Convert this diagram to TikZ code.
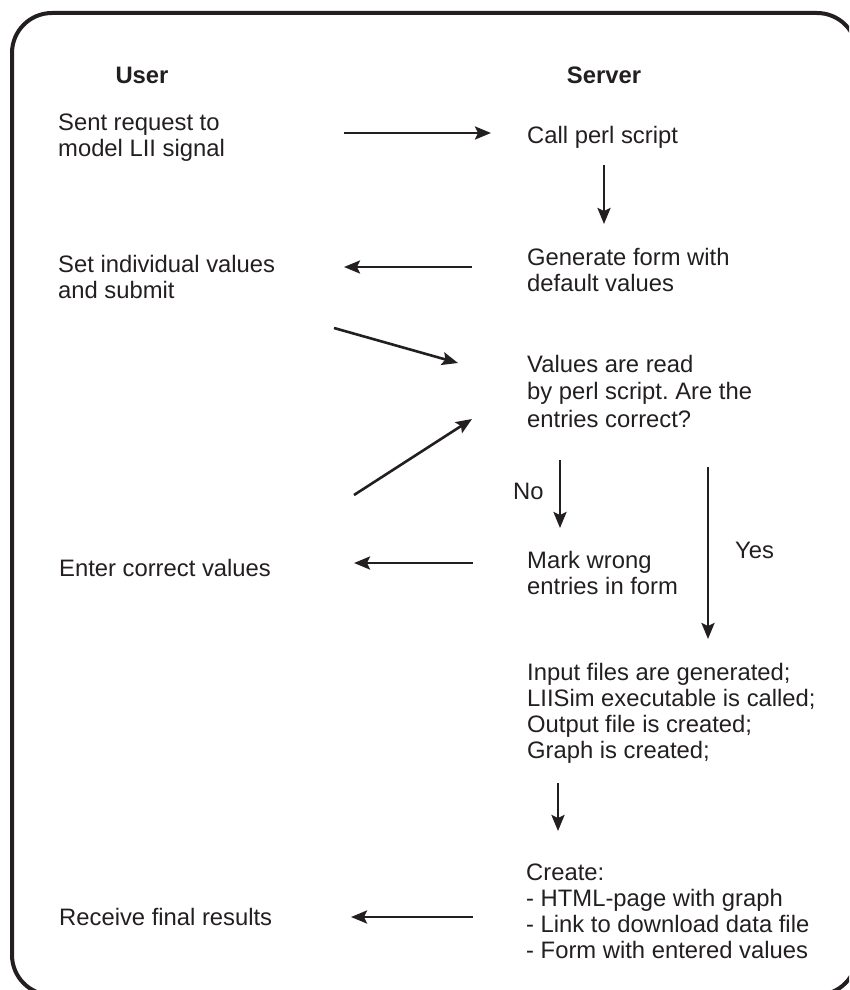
\documentclass[tikz,border=0pt]{standalone}
\usepackage{fontspec}
\setmainfont{Liberation Sans}
\usetikzlibrary{arrows.meta}
\definecolor{ink}{RGB}{35,31,32}
\newcommand\ml[1]{\begin{tabular}[t]{@{}l@{}}#1\end{tabular}}
\frenchspacing
\begin{document}
\begin{tikzpicture}[x=1pt,y=-1pt,
  txt/.style={anchor=base west, inner sep=0pt, text=ink, font=\fontsize{23.8}{26}\selectfont\frenchspacing},
  ttl/.style={anchor=base, inner sep=0pt, text=ink, font=\fontsize{23.8}{26}\selectfont\bfseries},
  arr/.style={draw=ink, line width=2.6pt, -{Stealth[length=16pt,width=13pt,inset=3pt]}}]
\useasboundingbox (0,0) rectangle (849,990);
\clip (0,0) rectangle (849,990);
\draw[ink, line width=4pt, rounded corners=40pt] (12,13) rectangle (857,995);

\node[ttl] (user) at (142,83) {User};
\node[ttl] (server) at (604,83) {Server};

\node[txt] (u1) at (58,130) {\ml{Sent request to\\model LII signal}};
\node[txt] (u2) at (58,272) {\ml{Set individual values\\and submit}};
\node[txt] (u3) at (59,576) {Enter correct values};
\node[txt] (u4) at (59,925) {Receive final results};

\node[txt] (s1) at (527,143) {Call perl script};
\node[txt] (s2) at (527,265) {\ml{Generate form with\\default values}};
\node[txt, font=\fontsize{23.8}{27.5}\selectfont\frenchspacing] (s3) at (527,372) {\ml{Values are read\\by perl script. Are the\\entries correct?}};
\node[txt] (no) at (513,499) {No};
\node[txt] (yes) at (735,558) {Yes};
\node[txt] (s4) at (527,568) {\ml{Mark wrong\\entries in form}};
\node[txt] (s5) at (527,680) {\ml{Input files are generated;\\LIISim executable is called;\\Output file is created;\\Graph is created;}};
\node[txt] (s6) at (526,880) {\ml{Create:\\- HTML-page with graph\\- Link to download data file\\- Form with entered values}};

\coordinate (a1s) at (344,133); \coordinate (a1e) at (491,133);
\coordinate (a2s) at (604,165); \coordinate (a2e) at (604,224);
\coordinate (a3s) at (472,267); \coordinate (a3e) at (344,267);
\coordinate (a4s) at (334,328); \coordinate (a4e) at (458,363);
\coordinate (a5s) at (354,495); \coordinate (a5e) at (472,419);
\coordinate (a6s) at (560,460); \coordinate (a6e) at (560,528);
\coordinate (a7s) at (708,467); \coordinate (a7e) at (708,639);
\coordinate (a8s) at (473,563); \coordinate (a8e) at (354,563);
\coordinate (a9s) at (558,783); \coordinate (a9e) at (558,831);
\coordinate (a10s) at (473,917); \coordinate (a10e) at (351,917);

\draw[arr] (a1s) -- (a1e);
\draw[arr] (a2s) -- (a2e);
\draw[arr] (a3s) -- (a3e);
\draw[arr] (a4s) -- (a4e);
\draw[arr] (a5s) -- (a5e);
\draw[arr] (a6s) -- (a6e);
\draw[arr] (a7s) -- (a7e);
\draw[arr] (a8s) -- (a8e);
\draw[arr] (a9s) -- (a9e);
\draw[arr] (a10s) -- (a10e);
\end{tikzpicture}
\end{document}
